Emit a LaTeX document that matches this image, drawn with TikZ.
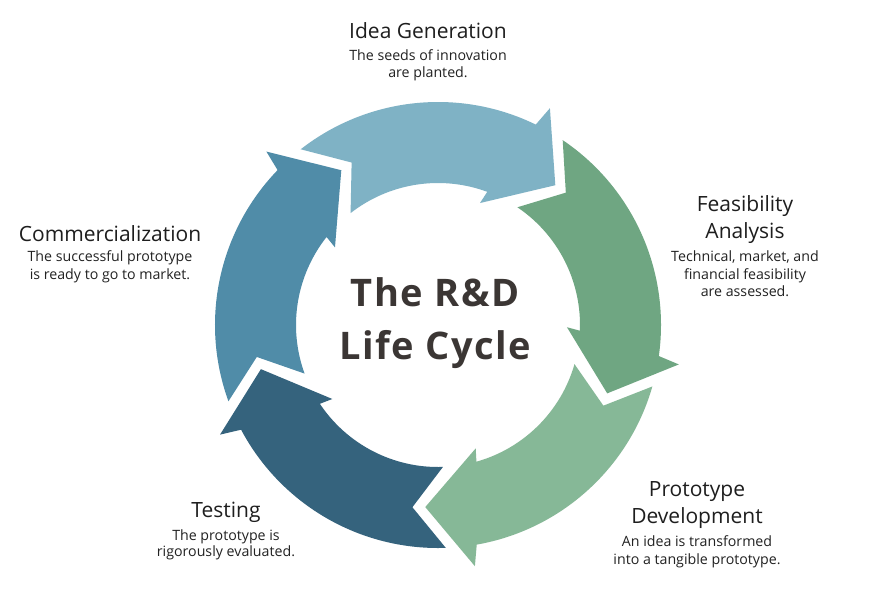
\documentclass[tikz,border=0pt]{standalone}
\usepackage{fontspec}
\setmainfont{Open Sans}
\newfontfamily\titlefont[LetterSpace=4]{Open Sans}
\definecolor{ideac}{HTML}{7FB2C5}
\definecolor{feasc}{HTML}{6FA682}
\definecolor{protc}{HTML}{86B897}
\definecolor{testc}{HTML}{35637D}
\definecolor{commc}{HTML}{508CA8}
\definecolor{headc}{HTML}{1E1E1E}
\definecolor{descc}{HTML}{222222}
\definecolor{titlec}{HTML}{3B3634}
\tikzset{
  headtxt/.style={anchor=base, inner sep=0pt, text=headc, font=\fontsize{21}{25}\selectfont},
  desctxt/.style={anchor=base, inner sep=0pt, text=descc, font=\fontsize{14.2}{17}\selectfont},
  titletxt/.style={anchor=base, inner sep=0pt, text=titlec, font=\titlefont\bfseries\fontsize{38}{42}\selectfont},
}
\begin{document}
\begin{tikzpicture}[x=1pt,y=1pt]
\useasboundingbox (0,0) rectangle (894,-600);
\fill[white] (0,0) rectangle (894,-600);
\begin{scope}[shift={(438,-325)}]
\foreach \t/\c in {128/ideac, 56/feasc, -16/protc, -88/testc, -160/commc}{
  \fill[\c] (\t:223) arc[start angle=\t, end angle={\t-64}, radius=223]
    -- ({\t-65.3}:244) -- ({\t-78}:182.5) -- ({\t-57}:129) -- ({\t-58.3}:142)
    arc[start angle={\t-58.3}, end angle=\t, radius=142]
    -- ({\t-10}:184) -- cycle;
}
\end{scope}
% Title
\node[titletxt] (t1) at (435,-306.7) {The R\&D};
\node[titletxt] (t2) at (435,-359) {Life Cycle};
% Idea Generation
\node[headtxt] (ih) at (428,-38.3) {Idea Generation};
\node[desctxt] (id1) at (428,-60.7) {The seeds of innovation};
\node[desctxt] (id2) at (428,-77) {are planted.};
% Feasibility
\node[headtxt] (fh1) at (745,-211.7) {Feasibility};
\node[headtxt] (fh2) at (745,-238) {Analysis};
\node[desctxt] (fd1) at (745,-261.7) {Technical, market, and};
\node[desctxt] (fd2) at (745,-279.3) {financial feasibility};
\node[desctxt] (fd3) at (745,-296.7) {are assessed.};
% Commercialization
\node[headtxt] (ch) at (110,-241) {Commercialization};
\node[desctxt] (cd1) at (110,-261.7) {The successful prototype};
\node[desctxt] (cd2) at (110,-279.3) {is ready to go to market.};
% Prototype Development
\node[headtxt] (ph1) at (697,-496.7) {Prototype};
\node[headtxt] (ph2) at (697,-523.3) {Development};
\node[desctxt] (pd1) at (697,-546.7) {An idea is transformed};
\node[desctxt] (pd2) at (697,-564.3) {into a tangible prototype.};
% Testing
\node[headtxt] (th) at (226,-517.3) {Testing};
\node[desctxt] (td1) at (226,-540) {The prototype is};
\node[desctxt] (td2) at (226,-556.7) {rigorously evaluated.};
\end{tikzpicture}
\end{document}
